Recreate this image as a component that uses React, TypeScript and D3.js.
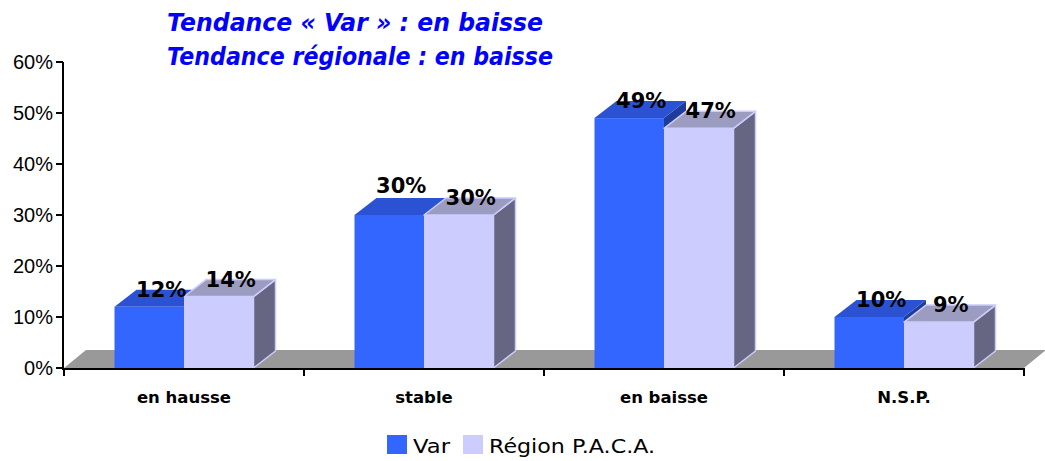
import React from "react";
import * as d3 from "d3";

const categories = ["en hausse", "stable", "en baisse", "N.S.P."];
const seriesNames = ["Var", "Région P.A.C.A."];
const varValues = [12, 30, 49, 10];
const pacaValues = [14, 30, 47, 9];
const yTicks = [0, 10, 20, 30, 40, 50, 60];
const titleLines = ["Tendance « Var » : en baisse", "Tendance régionale : en baisse"];

const W = 1045;
const H = 461;
const FONT = "'Comic Sans MS', 'DejaVu Sans', sans-serif";

const colors = {
  var: { front: "#3366ff", top: "#2b52d2", side: "#1f3b9c" },
  paca: { front: "#ccccff", top: "#9c9cc0", side: "#666682", stroke: "#ccccff" },
};

export default function App() {
  const x = d3.scaleBand<string>().domain(categories).range([64, 1024]).padding(0);
  const y = d3.scaleLinear().domain([0, 60]).range([368, 62]);
  const inner = d3.scaleBand<string>().domain(seriesNames).range([-69.5, 69.5]).padding(0);
  const dx = 22;
  const dy = -17;
  const base = y(0);

  const series = [
    { name: seriesNames[0], values: varValues, c: colors.var },
    { name: seriesNames[1], values: pacaValues, c: colors.paca },
  ];

  const bars: React.ReactNode[] = [];
  const labels: React.ReactNode[] = [];
  categories.forEach((cat, ci) => {
    const cx = (x(cat) as number) + x.bandwidth() / 2;
    series.forEach((s, si) => {
      const v = s.values[ci];
      const x0 = cx + (inner(s.name) as number);
      const x1 = x0 + inner.bandwidth();
      const yv = y(v);
      const stroke = si === 1 ? colors.paca.stroke : "none";
      const side = [[x1, yv], [x1 + dx, yv + dy], [x1 + dx, base + dy], [x1, base]];
      const top = [[x0, yv], [x0 + dx, yv + dy], [x1 + dx, yv + dy], [x1, yv]];
      bars.push(
        <g key={`b-${ci}-${si}`}>
          <polygon points={side.map((p) => p.join(",")).join(" ")} fill={s.c.side} stroke={stroke} strokeWidth={1.5} strokeLinejoin="round" />
          <polygon points={top.map((p) => p.join(",")).join(" ")} fill={s.c.top} stroke={stroke} strokeWidth={1.5} strokeLinejoin="round" />
          <rect x={x0} y={yv} width={x1 - x0} height={base - yv} fill={s.c.front} />
        </g>
      );
      const other = series[1 - si].values[ci];
      const shift = si === 0 && other === v ? -12 : 0;
      labels.push(
        <text
          key={`l-${ci}-${si}`}
          x={(x0 + x1) / 2 + 12}
          y={yv - 10 + shift}
          textAnchor="middle"
          fontFamily={FONT}
          fontWeight="bold"
          fontSize={21}
          fill="#000"
        >
          {v}%
        </text>
      );
    });
  });

  const floorDx = 22;
  const floorDy = -18;
  const floor = [
    [64, base],
    [64 + floorDx, base + floorDy],
    [1024 + floorDx, base + floorDy],
    [1024, base],
  ];

  return (
    <svg width={W} height={H} style={{ position: "absolute", left: 0, top: 0, background: "#fff" }}>
      <rect x={0} y={0} width={W} height={H} fill="#fff" />
      <polygon points={floor.map((p) => p.join(",")).join(" ")} fill="#999999" />
      {bars}
      {/* y axis */}
      <line x1={63} x2={63} y1={y(60)} y2={base + 1} stroke="#000" strokeWidth={2} />
      {yTicks.map((t) => (
        <g key={`yt-${t}`}>
          <line x1={56} x2={63} y1={y(t)} y2={y(t)} stroke="#000" strokeWidth={2} />
          <text x={53} y={y(t)} dy="0.36em" textAnchor="end" fontFamily="'Liberation Sans', Arial, sans-serif" fontSize={20} fill="#000">
            {t}%
          </text>
        </g>
      ))}
      {/* x axis */}
      <line x1={62} x2={1025} y1={base + 1} y2={base + 1} stroke="#000" strokeWidth={2} />
      {[...categories.map((c) => x(c) as number), 1024].map((t, i) => (
        <line key={`xt-${i}`} x1={t} x2={t} y1={base} y2={base + 8} stroke="#000" strokeWidth={2} />
      ))}
      {categories.map((c) => (
        <text
          key={`xl-${c}`}
          x={(x(c) as number) + x.bandwidth() / 2}
          y={403}
          textAnchor="middle"
          fontFamily={FONT}
          fontWeight="bold"
          fontSize={16.5}
          fill="#000"
        >
          {c}
        </text>
      ))}
      {labels}
      {/* title */}
      {titleLines.map((t, i) => (
        <text
          key={`t-${i}`}
          x={167}
          y={i === 0 ? 31 : 65}
          fontFamily={FONT}
          fontWeight="bold"
          fontStyle="italic"
          fontSize={24}
          fill="#0000ff"
          textLength={i === 0 ? 376 : 386}
          lengthAdjust="spacingAndGlyphs"
        >
          {t}
        </text>
      ))}
      {/* legend */}
      <rect x={387} y={435} width={20} height={19} fill={colors.var.front} />
      <text x={413} y={453} fontFamily={FONT} fontSize={20} fill="#000" textLength={37} lengthAdjust="spacingAndGlyphs">
        {seriesNames[0]}
      </text>
      <rect x={463} y={435} width={20} height={19} fill={colors.paca.front} />
      <text x={489} y={453} fontFamily={FONT} fontSize={20} fill="#000" textLength={166} lengthAdjust="spacingAndGlyphs">
        {seriesNames[1]}
      </text>
    </svg>
  );
}
